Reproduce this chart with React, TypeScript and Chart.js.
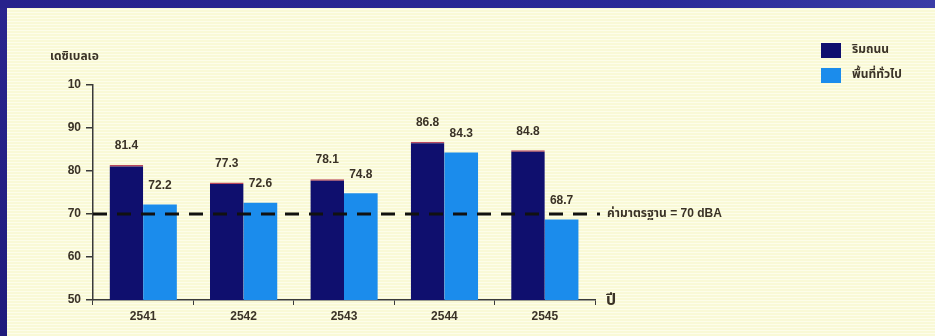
import React, { useEffect, useRef } from "react";
import { Chart, registerables } from "chart.js";

Chart.register(...registerables);

// Noise levels (dBA) by Buddhist-era year
const years = ["2541", "2542", "2543", "2544", "2545"];
const roadside = [81.4, 77.3, 78.1, 86.8, 84.8];
const generalArea = [72.2, 72.6, 74.8, 84.3, 68.7];
const seriesNames = ["ริมถนน", "พื้นที่ทั่วไป"];
const yTickValues = [50, 60, 70, 80, 90, 100];
const yTickLabels = ["50", "60", "70", "80", "90", "10"];
const standardLevel = 70;
const standardLabel = "ค่ามาตรฐาน = 70 dBA";
const yTitle = "เดซิเบลเอ";
const xUnit = "ปี";

const DARK = "#0f0f6e";
const LIGHT = "#1b8cec";
const INK = "#3a3226";
const AXIS = "#3a3a3a";
const FONT = "'Liberation Sans', Arial, 'Noto Sans Thai', 'Loma', 'Garuda', sans-serif";

const backdrop = {
  id: "backdrop",
  beforeDraw(chart: any) {
    const { ctx, width, height } = chart;
    ctx.save();
    const frame = ctx.createLinearGradient(0, 0, 0, height);
    frame.addColorStop(0, "#2a258f");
    frame.addColorStop(1, "#1f1a7c");
    ctx.fillStyle = frame;
    ctx.fillRect(0, 0, width, height);
    const top = ctx.createLinearGradient(0, 0, width, 0);
    top.addColorStop(0, "#27228c");
    top.addColorStop(0.7, "#2a2a98");
    top.addColorStop(1, "#3a3ca6");
    ctx.fillStyle = top;
    ctx.fillRect(0, 0, width, 8);
    ctx.fillStyle = "#f9f9d6";
    ctx.fillRect(7, 8, width - 7, height - 8);
    ctx.fillStyle = "rgba(255,255,246,0.6)";
    for (let y = 9; y < height; y += 3) ctx.fillRect(7, y, width - 7, 1);
    ctx.restore();
  },
};

const annotations = {
  id: "annotations",
  afterDatasetsDraw(chart: any) {
    const { ctx, chartArea, scales } = chart;
    const yStd = scales.y.getPixelForValue(standardLevel);
    ctx.save();
    // standard-level dashed line
    ctx.strokeStyle = "#111";
    ctx.lineWidth = 3;
    ctx.setLineDash([14, 10]);
    ctx.beginPath();
    ctx.moveTo(chartArea.left, yStd);
    ctx.lineTo(chartArea.right + 5, yStd);
    ctx.stroke();
    ctx.setLineDash([]);

    ctx.fillStyle = INK;
    ctx.font = `bold 12px ${FONT}`;
    ctx.textAlign = "left";
    ctx.textBaseline = "middle";
    ctx.fillText(standardLabel, chartArea.right + 12, yStd);

    // value labels over bars
    ctx.textAlign = "center";
    ctx.textBaseline = "bottom";
    chart.data.datasets.forEach((ds: any, di: number) => {
      const meta = chart.getDatasetMeta(di);
      meta.data.forEach((bar: any, i: number) => {
        ctx.fillText(ds.data[i].toFixed(1), bar.x, bar.y - 13);
      });
    });

    // axis captions
    ctx.textAlign = "left";
    ctx.textBaseline = "middle";
    ctx.fillText(yTitle, 50, 57);
    ctx.font = `bold 16px ${FONT}`;
    ctx.fillText(xUnit, chartArea.right + 11, chartArea.bottom + 1);

    // legend
    ctx.font = `bold 12px ${FONT}`;
    chart.data.datasets.forEach((ds: any, di: number) => {
      const y = 43 + di * 25;
      ctx.fillStyle = ds.backgroundColor;
      ctx.fillRect(821, y, 20, 15);
      ctx.fillStyle = INK;
      ctx.fillText(ds.label, 852, y + 7);
    });
    ctx.restore();
  },
};

export default function App() {
  const ref = useRef<HTMLCanvasElement>(null);

  useEffect(() => {
    if (!ref.current) return;
    const chart = new Chart(ref.current, {
      type: "bar",
      data: {
        labels: years,
        datasets: [
          {
            label: seriesNames[0],
            data: roadside,
            backgroundColor: DARK,
            borderColor: "#b8485e",
            borderWidth: { top: 1.5, left: 0, right: 0, bottom: 0 },
            borderSkipped: false,
          },
          {
            label: seriesNames[1],
            data: generalArea,
            backgroundColor: LIGHT,
            borderWidth: 0,
          },
        ],
      },
      plugins: [backdrop, annotations],
      options: {
        responsive: false,
        animation: false,
        devicePixelRatio: 1,
        layout: { padding: { left: 0, right: 340, top: 85, bottom: 0 } },
        plugins: { legend: { display: false }, tooltip: { enabled: false } },
        datasets: { bar: { categoryPercentage: 0.67, barPercentage: 1 } },
        scales: {
          x: {
            grid: {
              offset: true,
              drawOnChartArea: false,
              drawTicks: true,
              tickLength: 5,
              color: AXIS,
              lineWidth: 1,
            },
            border: { display: true, color: AXIS, width: 1.5 },
            ticks: {
              color: INK,
              font: { family: FONT, size: 12, weight: "bold" },
              padding: 4,
            },
            afterFit(scale: any) {
              scale.height = 36;
            },
          },
          y: {
            min: 50,
            max: 100,
            afterBuildTicks(scale: any) {
              scale.ticks = yTickValues.map((v) => ({ value: v }));
            },
            grid: {
              drawOnChartArea: false,
              drawTicks: true,
              tickLength: 7,
              color: AXIS,
              lineWidth: 1.5,
            },
            border: { display: true, color: AXIS, width: 1.5 },
            ticks: {
              color: INK,
              font: { family: FONT, size: 12, weight: "bold" },
              padding: 5,
              callback: (_v: any, i: number) => yTickLabels[i],
            },
            afterFit(scale: any) {
              scale.width = 93;
            },
          },
        },
      },
    });
    return () => chart.destroy();
  }, []);

  return (
    <div style={{ position: "fixed", left: 0, top: 0 }}>
      <canvas ref={ref} width={935} height={336} style={{ display: "block" }} />
    </div>
  );
}
